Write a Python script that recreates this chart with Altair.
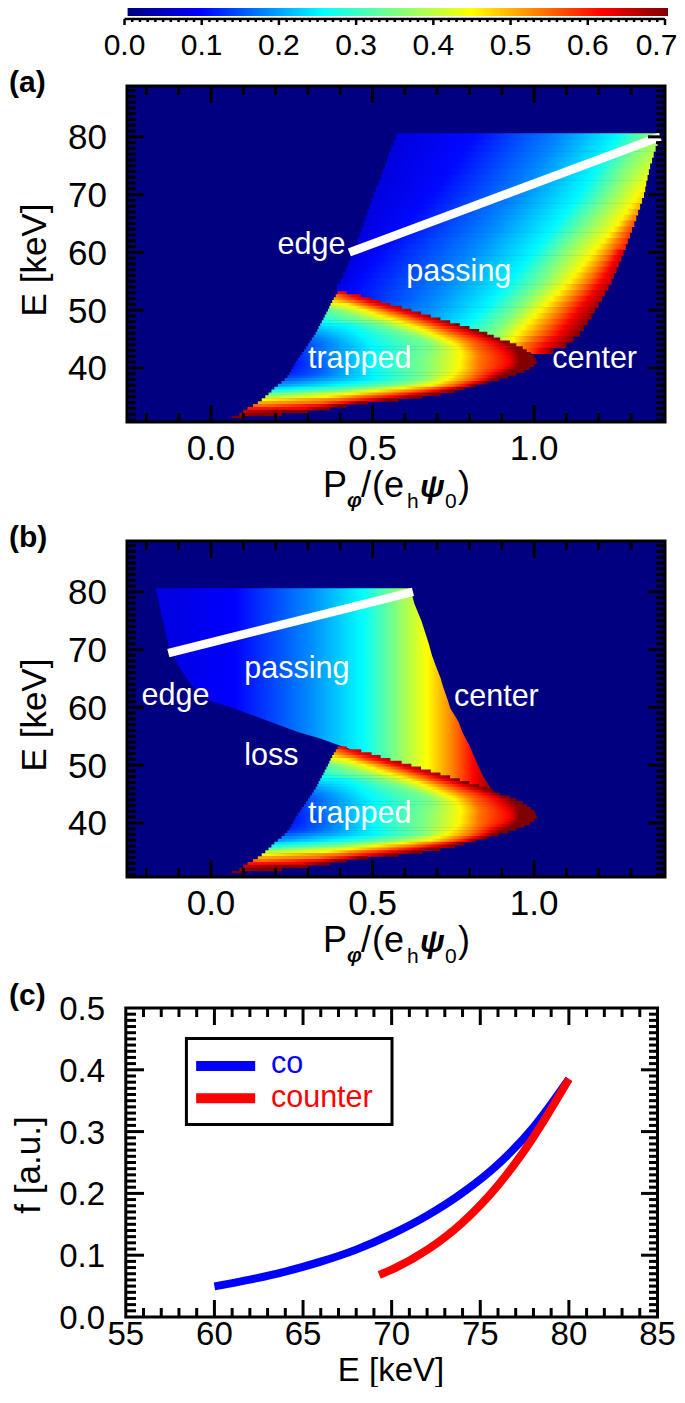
import altair as alt

N = None
FONT = "Liberation Sans"
NAVY = "#000080"

# colour table of the figure: value -> colour
CMAP_V = [0.0, 0.095, 0.253, 0.446, 0.615, 0.7]
CMAP_C = [(0, 0, 128), (0, 0, 255), (0, 255, 255), (255, 255, 0), (255, 0, 0), (128, 0, 0)]

# panel (a), passing part, one row per keV:
# E, left edge, value there, x where value reaches LEV_A, right edge, value there
LEV_A = [0.10, 0.18, 0.25, 0.35, 0.45, 0.54, 0.62]
PASS_A = [
    [80, .573, .07, [.812, 1.08, 1.256, 1.35, N, N, N], 1.388, .37],
    [79, .565, .07, [.800, 1.068, 1.244, 1.337, N, N, N], 1.382, .38],
    [78, .558, .07, [.787, 1.055, 1.232, 1.325, N, N, N], 1.376, .39],
    [77, .551, .07, [.775, 1.043, 1.219, 1.312, N, N, N], 1.370, .395],
    [76, .545, .07, [.762, 1.03, 1.206, 1.300, N, N, N], 1.365, .40],
    [75, .539, .07, [.750, 1.018, 1.194, 1.287, N, N, N], 1.359, .41],
    [74, .532, .07, [.738, 1.005, 1.184, 1.277, N, N, N], 1.355, .42],
    [73, .525, .07, [.725, .993, 1.174, 1.266, N, N, N], 1.351, .43],
    [72, .518, .07, [.713, .98, 1.163, 1.256, N, N, N], 1.347, .44],
    [71, .510, .07, [.700, .968, 1.153, 1.245, 1.335, N, N], 1.344, .46],
    [70, .503, .07, [.688, .955, 1.142, 1.235, 1.323, N, N], 1.340, .47],
    [69, .497, .07, [.672, .94, 1.128, 1.222, 1.311, N, N], 1.334, .48],
    [68, .491, .07, [.655, .926, 1.113, 1.208, 1.298, N, N], 1.328, .50],
    [67, .484, .07, [.639, .911, 1.099, 1.195, 1.286, N, N], 1.322, .52],
    [66, .478, .07, [.622, .897, 1.084, 1.181, 1.273, N, N], 1.316, .54],
    [65, .472, .07, [.606, .882, 1.07, 1.168, 1.261, 1.297, N], 1.31, .56],
    [64, .466, .07, [.589, .868, 1.056, 1.152, 1.246, 1.285, N], 1.303, .57],
    [63, .460, .07, [.573, .853, 1.041, 1.137, 1.230, 1.273, N], 1.297, .58],
    [62, .453, .07, [.556, .839, 1.027, 1.121, 1.215, 1.260, N], 1.290, .59],
    [61, .447, .07, [.540, .824, 1.012, 1.106, 1.199, 1.248, N], 1.284, .60],
    [60, .441, .07, [.523, .81, .998, 1.09, 1.184, 1.235, 1.264], 1.277, .64],
    [59, .433, .07, [.510, .795, .984, 1.078, 1.169, 1.222, 1.253], 1.270, .65],
    [58, .425, .07, [.498, .781, .969, 1.066, 1.155, 1.208, 1.242], 1.262, .65],
    [57, .417, .07, [.485, .766, .955, 1.054, 1.14, 1.195, 1.232], 1.255, .655],
    [56, .409, .07, [.473, .752, .940, 1.042, 1.125, 1.181, 1.221], 1.247, .66],
    [55, .40, .07, [.46, .737, .926, 1.03, 1.11, 1.168, 1.21], 1.24, .66],
    [54, .39, .08, [.45, .723, .909, 1.013, 1.092, 1.151, 1.195], 1.23, .665],
    [53, .39, .08, [.44, .709, .893, .996, 1.074, 1.135, 1.181], 1.22, .67],
    [52, .44, .09, [.45, .694, .876, .979, 1.056, 1.118, 1.166], 1.21, .675],
    [51, .47, .12, [N, .68, .86, .963, 1.038, 1.101, 1.152], 1.20, .68],
    [50, .58, .16, [N, .665, .843, .946, 1.02, 1.085, 1.137], 1.189, .685],
    [49, .63, .17, [N, .65, .822, .93, 1.003, 1.07, 1.123], 1.178, .69],
    [48, .68, .20, [N, N, .802, .913, .985, 1.054, 1.109], 1.166, .695],
    [47, .74, .24, [N, N, .781, .897, .968, 1.037, 1.094], 1.154, .70],
    [46, .79, .28, [N, N, N, .88, .95, 1.02, 1.08], 1.142, .70],
    [45, .85, .31, [N, N, N, .87, .935, .996, 1.06], 1.122, .70],
    [44, .90, .40, [N, N, N, N, .92, .972, 1.039], 1.10, .70],
    [43, .96, .52, [N, N, N, N, N, .97, 1.018], 1.06, .70],
]

# panel (b), passing part: outline and colour along x
PASS_B_E = [80.64, 78, 75, 71, 69, 67, 65, 63.8, 61.2, 59.8, 57.5, 55.7, 54.6, 53.4, 52, 50, 48, 46, 45]
PASS_B_L = [-.171, -.161, -.149, -.132, -.116, -.099, -.075, -.06, -.005, .072, .183, .271, .338, .398, .47, .60, .72, .83, .875]
PASS_B_R = [.617, .629, .651, .674, .684, .697, .711, .717, .733, .741, .766, .778, .788, .80, .81, .826, .843, .866, .882]
PASS_B_X = [-.171, .072, .304, .47, .57, .669, .747, .813, .868, .882]
PASS_B_V = [.07, .095, .18, .253, .35, .446, .53, .615, .69, .70]

# trapped part, the same in (a) and (b), one row per half keV
LEV_T = [0.15, 0.25, 0.35, 0.45, 0.54, 0.62, 0.70]
TRAPPED = [
    [53, .392, .60, [N, N, N, N, N, .41, N], .42, .64],
    [52.5, .386, .54, [N, N, N, N, .39, .44, N], .465, .65],
    [52, .38, .50, [N, N, N, N, .41, .46, N], .497, .66],
    [51.5, .375, .46, [N, N, N, N, .44, .49, N], .525, .665],
    [51, .37, .42, [N, N, N, .42, .465, .515, N], .555, .67],
    [50.5, .366, .37, [N, N, N, .445, .50, .545, N], .59, .675],
    [50, .362, .33, [N, N, .39, .475, .53, .575, N], .62, .68],
    [49.5, .357, .31, [N, N, .415, .50, .56, .605, N], .65, .685],
    [49, .352, .30, [N, N, .445, .525, .59, .635, N], .68, .69],
    [48.5, .348, .28, [N, N, .47, .555, .618, .665, N], .71, .695],
    [48, .343, .26, [N, N, .50, .585, .645, .695, N], .74, .70],
    [47.5, .338, .24, [N, .41, .53, .612, .67, .722, .76], .77, .70],
    [47, .333, .22, [N, .43, .56, .64, .695, .75, .79], .80, .70],
    [46.5, .329, .205, [N, .445, .585, .66, .718, .775, .815], .83, .70],
    [46, .324, .19, [N, .46, .61, .68, .74, .80, .84], .855, .70],
    [45.5, .318, .175, [N, .47, .635, .70, .762, .825, .86], .875, .70],
    [45, .312, .16, [N, .48, .655, .72, .785, .85, .885], .895, .70],
    [44.5, .306, .15, [N, .49, .67, .74, .80, .87, .91], .925, .70],
    [44, .30, .14, [.315, .50, .68, .755, .81, .885, .93], .945, .70],
    [43.5, .294, .135, [.31, .503, .68, .763, .818, .895, .94], .965, .70],
    [43, .288, .13, [.31, .505, .68, .77, .825, .905, .95], .977, .70],
    [42.5, .281, .125, [.315, .505, .675, .773, .83, .913, .953], .99, .70],
    [42, .275, .12, [.32, .505, .67, .775, .835, .92, .955], 1.0, .70],
    [41.5, .268, .115, [.325, .503, .667, .773, .833, .923, .956], 1.005, .70],
    [41, .262, .11, [.33, .50, .665, .77, .83, .925, .956], 1.008, .70],
    [40.5, .258, .11, [.335, .50, .665, .77, .83, .92, .952], 1.0, .70],
    [40, .253, .11, [.34, .50, .665, .77, .83, .91, .945], .987, .70],
    [39.5, .248, .115, [.33, .50, .662, .763, .825, .893, .928], .97, .70],
    [39, .243, .12, [.32, .50, .66, .755, .82, .875, .91], .945, .70],
    [38.5, .236, .135, [.29, .505, .66, .742, .81, .86, .89], .92, .70],
    [38, .228, .15, [N, .51, .66, .73, .80, .845, .87], .89, .70],
    [37.5, .218, .17, [N, .45, .615, .705, .772, .818, .845], .855, .70],
    [37, .207, .19, [N, .39, .57, .68, .745, .79, .812], .82, .70],
    [36.5, .196, .23, [N, .28, .485, .595, .685, .74, .775], .785, .70],
    [36, .187, .27, [N, N, .40, .51, .625, .69, .74], .755, .70],
    [35.5, .178, .33, [N, N, .23, .435, .545, .625, .685], .71, .70],
    [35, .168, .38, [N, N, N, .36, .46, .56, .63], .655, .70],
    [34.5, .157, .44, [N, N, N, .17, .395, .49, .55], .58, .70],
    [34, .145, .50, [N, N, N, N, .33, .42, .46], .485, .70],
    [33.5, .13, .55, [N, N, N, N, .16, .345, .40], .42, .70],
    [33, .113, .60, [N, N, N, N, N, .28, .34], .368, .70],
    [32.5, .10, .65, [N, N, N, N, N, N, .23], .30, .70],
    [32, .088, .68, [N, N, N, N, N, N, .15], .22, .70],
]
TAIL_E, TAIL_L, TAIL_R = 31.5, .064, .10

# white lines
LINE_A_X, LINE_A_E = [.428, 1.39], [60, 80]
LINE_B_X, LINE_B_E = [-.132, .625], [69.4, 80]

# labels inside the maps
TEXT_A = [("edge", .206, 59.7), ("passing", .604, 55), ("trapped", .30, 40), ("center", 1.056, 40)]
TEXT_B = [("edge", -.215, 60.4), ("passing", .103, 65), ("center", .752, 60.2),
          ("loss", .103, 50), ("trapped", .30, 40)]

# panel (c)
CO_E = [60, 62, 64, 66, 68, 70, 72, 74, 76, 78, 80]
CO_F = [.0495, .0605, .0735, .0895, .109, .134, .164, .201, .247, .307, .385]
CTR_E = [69.3, 70, 72, 74, 76, 78, 80]
CTR_F = [.068, .0765, .1085, .153, .213, .291, .385]

# ticks and their labels
MAP_X_MAJOR = [0.0, 0.5, 1.0]
MAP_X_LABELS = ["0.0", "0.5", "1.0"]
MAP_X_MINOR = [-.2, -.1, .1, .2, .3, .4, .6, .7, .8, .9, 1.1, 1.2, 1.3]
MAP_Y_MAJOR = [40, 50, 60, 70, 80]
MAP_Y_LABELS = ["40", "50", "60", "70", "80"]
MAP_Y_MINOR = [e for e in range(31, 89) if e % 10]
C_X_MAJOR = [60, 65, 70, 75, 80]
C_X_LABEL_V = [55, 60, 65, 70, 75, 80, 85]
C_X_LABELS = ["55", "60", "65", "70", "75", "80", "85"]
C_X_MINOR = [e for e in range(56, 85) if e % 5]
C_Y_MAJOR = [.1, .2, .3, .4]
C_Y_LABEL_V = [0, .1, .2, .3, .4, .5]
C_Y_LABELS = ["0.0", "0.1", "0.2", "0.3", "0.4", "0.5"]
C_Y_MINOR = [i / 100 for i in range(1, 50) if i % 10]
BAR_MAJOR = [i / 10 for i in range(0, 8)]
BAR_MINOR = [i / 100 for i in range(0, 71) if i % 10]
BAR_LABELS = ["0.0", "0.1", "0.2", "0.3", "0.4", "0.5", "0.6", "0.7"]
BAR_LABEL_X = [0, .1, .2, .3, .4, .5, .6, .689]

MAP_W, MAP_H = 538, 336
MAP_XDOM, MAP_YDOM = [-.26, 1.405], [30.64, 88.8]
C_W, C_H = 531, 309


def colour(v):
    for i in range(len(CMAP_V) - 1):
        if v <= CMAP_V[i + 1]:
            t = (v - CMAP_V[i]) / (CMAP_V[i + 1] - CMAP_V[i])
            a, b = CMAP_C[i], CMAP_C[i + 1]
            return "#%02x%02x%02x" % tuple(round(a[k] + t * (b[k] - a[k])) for k in range(3))
    return "#800000"


def gradient(xs, vs):
    x0, x1 = xs[0], xs[-1]
    return {"gradient": "linear", "x1": 0, "x2": 1, "y1": 0, "y2": 0,
            "stops": [{"offset": (x - x0) / (x1 - x0), "color": colour(v)} for x, v in zip(xs, vs)]}


xs_map = alt.Scale(domain=MAP_XDOM, nice=False, zero=False)
ys_map = alt.Scale(domain=MAP_YDOM, nice=False, zero=False)


def row_layers(rows, levels, half):
    out = []
    for E, left, vl, cross, right, vr in rows:
        xs = [left] + [c for c in cross if c is not None] + [right]
        vs = [vl] + [l for c, l in zip(cross, levels) if c is not None] + [vr]
        top = 80.64 if E == 80 else E + half
        out.append(
            alt.Chart(alt.Data(values=[{"a": left, "b": right, "t": top, "u": E - half - .1}]))
            .mark_rect(fill=gradient(xs, vs))
            .encode(x=alt.X("a:Q", scale=xs_map, axis=None), x2="b:Q",
                    y=alt.Y("t:Q", scale=ys_map, axis=None), y2="u:Q"))
    return out


def vals(xs):
    return alt.Data(values=[{"v": v} for v in xs])


def frame(xscale, yscale, w, h, xmaj, xmin, ymaj, ymin, ml, sl, sw=3):
    X = alt.X("v:Q", scale=xscale, axis=None)
    Y = alt.Y("v:Q", scale=yscale, axis=None)
    rule = lambda d: alt.Chart(d).mark_rule(color="black", strokeWidth=sw)
    return [
        rule(vals(xmaj)).encode(x=X, y=alt.value(h), y2=alt.value(h - ml)),
        rule(vals(xmaj)).encode(x=X, y=alt.value(0), y2=alt.value(ml)),
        rule(vals(xmin)).encode(x=X, y=alt.value(h), y2=alt.value(h - sl)),
        rule(vals(xmin)).encode(x=X, y=alt.value(0), y2=alt.value(sl)),
        rule(vals(ymaj)).encode(y=Y, x=alt.value(0), x2=alt.value(ml)),
        rule(vals(ymaj)).encode(y=Y, x=alt.value(w), x2=alt.value(w - ml)),
        rule(vals(ymin)).encode(y=Y, x=alt.value(0), x2=alt.value(sl)),
        rule(vals(ymin)).encode(y=Y, x=alt.value(w), x2=alt.value(w - sl)),
    ]


def x_labels(scale, values, labels, y, size):
    return alt.Chart(alt.Data(values=[{"t": t, "v": v} for t, v in zip(labels, values)])).mark_text(
        font=FONT, fontSize=size, color="black", align="center", baseline="alphabetic").encode(
        text="t:N", x=alt.X("v:Q", scale=scale, axis=None), y=alt.value(y))


def y_labels(scale, values, labels, x, size, dy):
    return alt.Chart(alt.Data(values=[{"t": t, "v": v} for t, v in zip(labels, values)])).mark_text(
        font=FONT, fontSize=size, color="black", align="right", baseline="alphabetic", dy=dy).encode(
        text="t:N", y=alt.Y("v:Q", scale=scale, axis=None), x=alt.value(x))


def plain_text(t, x, y, size, angle=0, align="center", weight="normal", style="normal"):
    return alt.Chart(alt.Data(values=[{"t": t}])).mark_text(
        font=FONT, fontSize=size, fontWeight=weight, fontStyle=style, align=align, baseline="alphabetic",
        angle=angle, color="black").encode(text="t:N", x=alt.value(x), y=alt.value(y))


def title_layers():
    # P_phi/(e_h psi_0), placed relative to the panel
    parts = [("P", 196, 410.7, 36, "normal", "normal"), ("\u03c6", 220, 421, 21, "bold", "italic"),
             ("/", 234, 410.7, 36, "normal", "normal"), ("(e", 245, 410.7, 36, "normal", "normal"),
             ("h", 280, 422, 21, "normal", "normal"), ("\u03c8", 293, 410.7, 32, "bold", "italic"),
             ("0", 318, 422, 21, "normal", "normal"), (")", 331, 410.7, 36, "normal", "normal")]
    return [plain_text(t, x, y, s, align="left", weight=w, style=st) for t, x, y, s, w, st in parts]


def text_layer(items):
    return alt.Chart(alt.Data(values=[{"t": t, "x": x, "e": e} for t, x, e in items])).mark_text(
        font=FONT, fontSize=30.5, color="white", align="left", baseline="alphabetic").encode(
        text="t:N", x=alt.X("x:Q", scale=xs_map, axis=None), y=alt.Y("e:Q", scale=ys_map, axis=None))


def white_line(xs, es):
    return alt.Chart(alt.Data(values=[{"x": x, "e": e} for x, e in zip(xs, es)])).mark_line(
        color="white", strokeWidth=8.5, strokeCap="butt").encode(
        x=alt.X("x:Q", scale=xs_map, axis=None), y=alt.Y("e:Q", scale=ys_map, axis=None))


def background(w, h):
    return alt.Chart(alt.Data(values=[{"a": 1}])).mark_rect(color=NAVY).encode(
        x=alt.value(0), x2=alt.value(w), y=alt.value(0), y2=alt.value(h))


def outline(w, h, sw=3):
    return alt.Chart(alt.Data(values=[{"a": 1}])).mark_rect(filled=False, stroke="black", strokeWidth=sw).encode(
        x=alt.value(0), x2=alt.value(w), y=alt.value(0), y2=alt.value(h))


def tail():
    return alt.Chart(alt.Data(values=[{"a": TAIL_L, "b": TAIL_R, "t": TAIL_E + .2, "u": TAIL_E - .2}])).mark_rect(
        color=colour(.7)).encode(x=alt.X("a:Q", scale=xs_map, axis=None), x2="b:Q",
                                 y=alt.Y("t:Q", scale=ys_map, axis=None), y2="u:Q")


def map_panel(passing, line, texts):
    layers = [background(MAP_W, MAP_H)]
    layers += passing + row_layers(TRAPPED, LEV_T, .25) + [tail(), line, text_layer(texts)]
    layers += frame(xs_map, ys_map, MAP_W, MAP_H, MAP_X_MAJOR, MAP_X_MINOR, MAP_Y_MAJOR, MAP_Y_MINOR, 17, 9)
    layers += [outline(MAP_W, MAP_H),
               x_labels(xs_map, MAP_X_MAJOR, MAP_X_LABELS, 374, 35),
               y_labels(ys_map, MAP_Y_MAJOR, MAP_Y_LABELS, -20, 35, 12.5),
               plain_text("E [keV]", -81, 174, 35, angle=270)]
    layers += title_layers()
    return alt.layer(*layers).properties(width=MAP_W, height=MAP_H)


def letter(t, y, h):
    return plain_text(t, -118, y, 30, align="left", weight="bold").properties(width=MAP_W, height=h)


# colour bar
bar_scale = alt.Scale(domain=[0, .7], range=[-2.5, 538], nice=False, zero=False)
bar_rect = alt.Chart(alt.Data(values=[{"a": 1}])).mark_rect(fill=gradient(CMAP_V, [v * .9999 for v in CMAP_V])).encode(
    x=alt.value(.6), x2=alt.value(541), y=alt.value(0), y2=alt.value(8))
bar_axis_line = alt.Chart(alt.Data(values=[{"a": 0, "b": .7}])).mark_rule(color="black", strokeWidth=2.5).encode(
    x=alt.X("a:Q", scale=bar_scale, axis=None), x2="b:Q", y=alt.value(11))
bar_major = alt.Chart(vals(BAR_MAJOR)).mark_rule(color="black", strokeWidth=2.5).encode(
    x=alt.X("v:Q", scale=bar_scale, axis=None), y=alt.value(11), y2=alt.value(17))
bar_minor = alt.Chart(vals(BAR_MINOR)).mark_rule(color="black", strokeWidth=2.5).encode(
    x=alt.X("v:Q", scale=bar_scale, axis=None), y=alt.value(11), y2=alt.value(14))
bar = alt.layer(bar_rect, bar_axis_line, bar_major, bar_minor,
                x_labels(bar_scale, BAR_LABEL_X, BAR_LABELS, 47, 30)).properties(width=MAP_W, height=8)

# maps
passing_b = alt.Chart(alt.Data(values=[{"e": e, "l": l, "r": r} for e, l, r in zip(PASS_B_E, PASS_B_L, PASS_B_R)])).mark_area(
    orient="horizontal", fill=gradient(PASS_B_X, PASS_B_V)).encode(
    y=alt.Y("e:Q", scale=ys_map, axis=None), x=alt.X("l:Q", scale=xs_map, axis=None), x2="r:Q")

panel_a = map_panel(row_layers(PASS_A, LEV_A, .5), white_line(LINE_A_X, LINE_A_E), TEXT_A)
panel_b = map_panel([passing_b], white_line(LINE_B_X, LINE_B_E), TEXT_B)

# panel (c)
xs_c = alt.Scale(domain=[55, 85], range=[-1.2, 530.5], nice=False, zero=False)
ys_c = alt.Scale(domain=[0, .5], nice=False, zero=False)


def curve(es, fs, col):
    return alt.Chart(alt.Data(values=[{"e": e, "f": f} for e, f in zip(es, fs)])).mark_line(
        color=col, strokeWidth=8, strokeCap="butt", interpolate="monotone").encode(
        x=alt.X("e:Q", scale=xs_c, axis=None), y=alt.Y("f:Q", scale=ys_c, axis=None))


def legend_row(col, f, text, ftext):
    sample = alt.Chart(alt.Data(values=[{"e": 58.97, "f": f}, {"e": 62.3, "f": f}])).mark_line(
        color=col, strokeWidth=10, strokeCap="butt").encode(
        x=alt.X("e:Q", scale=xs_c, axis=None), y=alt.Y("f:Q", scale=ys_c, axis=None))
    label = alt.Chart(alt.Data(values=[{"e": 63.19, "f": ftext, "t": text}])).mark_text(
        font=FONT, fontSize=30.5, color=col, align="left", baseline="alphabetic").encode(
        text="t:N", x=alt.X("e:Q", scale=xs_c, axis=None), y=alt.Y("f:Q", scale=ys_c, axis=None))
    return [sample, label]


legend_box = alt.Chart(alt.Data(values=[{"a": 58.42, "b": 70.02, "t": .4508, "u": .3116}])).mark_rect(
    filled=False, stroke="black", strokeWidth=3).encode(
    x=alt.X("a:Q", scale=xs_c, axis=None), x2="b:Q", y=alt.Y("t:Q", scale=ys_c, axis=None), y2="u:Q")
c_frame = alt.Chart(alt.Data(values=[{"a": 55, "b": 85, "t": .5, "u": 0}])).mark_rect(
    filled=False, stroke="black", strokeWidth=3).encode(
    x=alt.X("a:Q", scale=xs_c, axis=None), x2="b:Q", y=alt.Y("t:Q", scale=ys_c, axis=None), y2="u:Q")

panel_c = alt.layer(
    curve(CO_E, CO_F, "#0000ff"), curve(CTR_E, CTR_F, "#ff0000"),
    *legend_row("#0000ff", .4063, "co", .3942), *legend_row("#ff0000", .3539, "counter", .3397),
    legend_box,
    *frame(xs_c, ys_c, C_W, C_H, C_X_MAJOR, C_X_MINOR, C_Y_MAJOR, C_Y_MINOR, 17, 9),
    c_frame,
    x_labels(xs_c, C_X_LABEL_V, C_X_LABELS, 337, 33),
    y_labels(ys_c, C_Y_LABEL_V, C_Y_LABELS, -22, 33, 12),
    plain_text("E [keV]", 264, 373, 33),
    plain_text("f [a.u.]", -87.5, 157, 35, angle=270),
).properties(width=C_W, height=C_H)

chart = alt.vconcat(
    bar, letter("(a)", 76, 70), panel_a, letter("(b)", 125, 119), panel_b, letter("(c)", 128, 131), panel_c,
    spacing=0, bounds="flush",
).properties(
    padding={"left": 119, "top": 0, "right": 550, "bottom": 1379},
    autosize=alt.AutoSizeParams(type="none"),
).configure_view(strokeWidth=0)

chart.save("out.html", embed_options={"renderer": "svg", "actions": False})
